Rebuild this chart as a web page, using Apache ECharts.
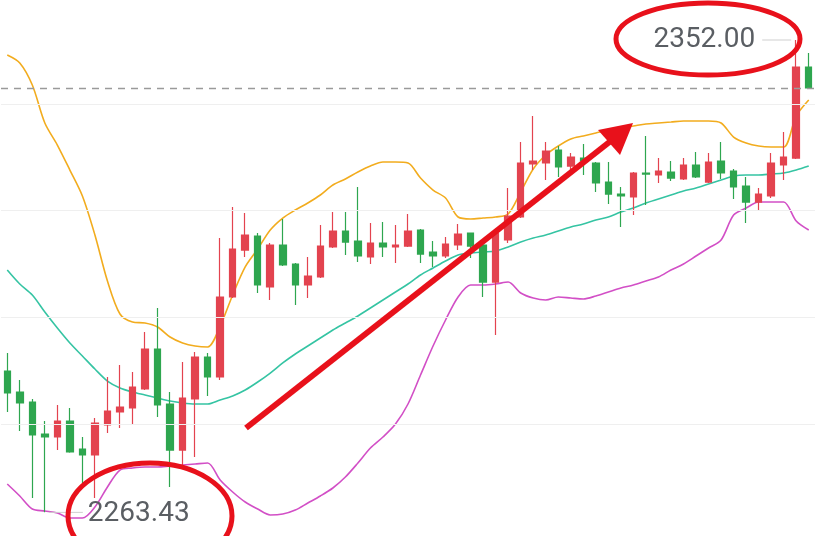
<!DOCTYPE html>
<html><head><meta charset="utf-8">
<script src="https://cdn.jsdelivr.net/npm/echarts@6/dist/echarts.min.js"></script>
<style>html,body{margin:0;padding:0;background:#fff}#c{width:829px;height:536px}</style>
</head><body><div id="c"></div>
<script>
const categories = ['1','2','3','4','5','6','7','8','9','10','11','12','13','14','15','16','17','18','19','20','21','22','23','24','25','26','27','28','29','30','31','32','33','34','35','36','37','38','39','40','41','42','43','44','45','46','47','48','49','50','51','52','53','54','55','56','57','58','59','60','61','62','63','64','65'];
const opens = [2289.94,2286.0,2284.12,2278.12,2277.56,2280.56,2275.31,2274.19,2279.81,2282.25,2283.0,2286.56,2294.06,2283.75,2275.12,2284.69,2292.56,2288.81,2303.81,2312.62,2315.25,2305.69,2313.56,2310.0,2306.06,2307.56,2313.19,2316.19,2314.31,2311.31,2313.94,2313.19,2313.37,2316.37,2312.25,2311.5,2313.56,2315.81,2313.56,2306.62,2314.5,2318.81,2328.75,2328.94,2331.37,2328.37,2329.87,2328.94,2325.37,2323.12,2322.56,2327.06,2326.69,2327.25,2325.94,2328.56,2325.37,2329.31,2327.44,2324.62,2321.62,2322.75,2328.56,2329.87,2346.94];
const closes = [2285.81,2283.94,2277.94,2277.56,2280.56,2274.75,2274.19,2280.19,2282.44,2283.19,2286.94,2294.06,2283.56,2275.12,2284.87,2292.56,2288.81,2303.81,2312.81,2315.44,2306.06,2313.56,2309.81,2306.06,2307.75,2313.37,2316.19,2314.12,2311.5,2313.94,2313.19,2313.56,2316.19,2311.87,2311.5,2313.75,2315.62,2313.37,2306.62,2315.81,2319.0,2328.94,2329.31,2331.19,2328.19,2330.06,2329.31,2325.19,2323.12,2322.75,2327.06,2326.87,2327.44,2326.12,2328.56,2326.31,2329.12,2327.06,2324.44,2321.62,2323.12,2328.94,2330.06,2346.94,2343.0];
const lows = [2282.25,2278.69,2266.12,2263.43,2275.12,2274.6,2268.94,2266.12,2278.31,2279.25,2280.0,2286.37,2281.31,2268.19,2272.31,2273.81,2285.25,2288.25,2303.62,2311.31,2304.56,2303.25,2309.62,2302.31,2303.62,2307.37,2313.0,2311.69,2310.37,2310.0,2311.31,2310.19,2313.19,2310.19,2309.44,2311.12,2312.62,2311.12,2303.81,2296.69,2313.94,2318.62,2327.62,2325.75,2326.31,2327.62,2326.69,2323.5,2321.25,2316.94,2319.19,2321.06,2325.19,2325.56,2325.75,2326.12,2325.19,2325.94,2322.19,2317.69,2320.12,2322.37,2325.75,2329.69,2342.81];
const highs = [2293.31,2288.25,2284.69,2280.56,2283.56,2283.0,2277.56,2281.12,2288.81,2291.06,2289.75,2297.25,2301.75,2286.0,2291.62,2293.5,2293.31,2314.87,2320.69,2319.56,2315.81,2313.94,2318.44,2310.19,2311.31,2317.31,2319.75,2319.75,2324.44,2317.69,2317.87,2317.31,2319.37,2316.56,2314.31,2315.06,2317.5,2315.9,2313.94,2316.0,2324.25,2332.87,2337.75,2332.87,2332.12,2330.81,2332.5,2329.12,2329.12,2324.44,2327.25,2334.0,2329.87,2329.31,2329.87,2331.0,2330.81,2332.87,2327.81,2326.31,2324.25,2330.81,2334.75,2352.0,2349.56];
const bollUpper = [2349.19,2347.69,2343.56,2336.44,2332.31,2327.62,2322.75,2315.44,2306.81,2300.62,2299.12,2298.94,2298.19,2296.31,2295.19,2294.62,2294.44,2298.37,2304.19,2309.44,2312.81,2316.37,2318.62,2320.12,2321.44,2322.94,2324.81,2325.94,2327.25,2328.37,2329.12,2329.12,2328.94,2326.12,2323.87,2322.37,2318.81,2318.44,2318.62,2318.81,2319.37,2323.5,2327.81,2330.44,2332.12,2333.44,2334.0,2334.56,2335.12,2335.5,2335.87,2336.25,2336.44,2336.62,2336.81,2336.81,2336.81,2336.44,2333.81,2332.69,2332.12,2331.94,2331.94,2337.75,2340.75];
const bollMid = [2308.87,2306.25,2304.19,2301.0,2298.0,2295.19,2292.75,2290.31,2288.06,2286.75,2286.0,2285.44,2284.87,2284.31,2283.94,2283.75,2283.75,2284.5,2285.25,2286.37,2287.87,2289.56,2291.44,2293.12,2294.62,2296.12,2297.62,2298.94,2300.25,2301.75,2303.25,2304.75,2306.25,2307.94,2309.25,2310.56,2311.69,2312.06,2312.25,2312.44,2313.19,2314.12,2314.87,2315.44,2316.19,2316.94,2317.5,2318.25,2318.81,2319.75,2320.5,2321.44,2322.19,2322.94,2323.69,2324.25,2325.0,2325.75,2326.5,2326.69,2326.69,2326.87,2327.06,2327.62,2328.37];
const bollLower = [2268.75,2266.5,2264.06,2263.69,2263.31,2262.37,2262.37,2264.44,2268.19,2271.37,2271.75,2271.94,2271.94,2272.12,2272.31,2272.5,2272.69,2269.5,2267.25,2265.37,2264.06,2262.94,2263.12,2263.87,2265.19,2266.5,2268.0,2270.06,2272.69,2275.5,2277.56,2280.0,2283.75,2289.19,2294.62,2299.5,2303.81,2306.06,2306.06,2306.25,2306.62,2304.56,2303.62,2303.25,2303.81,2303.62,2303.44,2304.0,2304.75,2305.5,2306.06,2306.81,2307.56,2308.87,2310.0,2311.5,2313.0,2314.5,2319.19,2320.5,2321.62,2321.62,2321.62,2318.06,2316.37];
const gridValues = [2280, 2300, 2320, 2340];
const highLabel = '2352.00';
const lowLabel = '2263.43';

const UP = '#e3434f', DOWN = '#2ea64f';
const ohlc = categories.map((c, i) => [opens[i], closes[i], lows[i], highs[i]]);
const chart = echarts.init(document.getElementById('c'), null, {renderer: 'canvas'});
const lineSeries = (name, data, color) => ({
  name, type: 'line', data, smooth: 0.3, symbol: 'none', silent: true,
  lineStyle: {color, width: 1.6}, z: 3
});
chart.setOption({
  animation: false,
  backgroundColor: '#ffffff',
  grid: {left: 1, right: 14, top: 0, bottom: 0},
  xAxis: {type: 'category', data: categories, boundaryGap: true, show: false},
  yAxis: {type: 'value', min: 2259, max: 2359.5, show: false, splitLine: {show: false}},
  series: [
    {
      type: 'candlestick', data: ohlc, barWidth: 7, z: 4,
      itemStyle: {color: UP, color0: DOWN, borderColor: UP, borderColor0: DOWN, borderWidth: 1.2},
      markLine: {
        silent: true, symbol: 'none', label: {show: false}, animation: false,
        data: gridValues.map(v => ({yAxis: v, lineStyle: {color: '#efefef', width: 1, type: 'solid'}}))
          .concat([{yAxis: closes[closes.length - 1], lineStyle: {color: '#9a9a9a', width: 1.3, type: [7, 6]}}])
      }
    },
    lineSeries('UP', bollUpper, '#f2ac1e'),
    lineSeries('MB', bollMid, '#35c4a3'),
    lineSeries('DN', bollLower, '#d24fc6')
  ]
});

// high / low labels placed from the data extremes
const hiIdx = highs.indexOf(Math.max(...highs));
const loIdx = lows.indexOf(Math.min(...lows));
const hp = chart.convertToPixel({gridIndex: 0}, [hiIdx, highs[hiIdx]]);
const lp = chart.convertToPixel({gridIndex: 0}, [loIdx, lows[loIdx]]);
const RED = '#e8111b';
chart.setOption({
  graphic: [
    {type: 'line', shape: {x1: hp[0] - 34, y1: hp[1], x2: hp[0] - 5, y2: hp[1]}, style: {stroke: '#cfcfcf', lineWidth: 1}, z: 10},
    {type: 'text', x: hp[0] - 41, y: hp[1], style: {text: highLabel, fill: '#5a5e63', font: '28px Roboto', textAlign: 'right', textVerticalAlign: 'middle'}, z: 10},
    {type: 'line', shape: {x1: lp[0] + 4, y1: lp[1], x2: lp[0] + 38, y2: lp[1]}, style: {stroke: '#cfcfcf', lineWidth: 1}, z: 10},
    {type: 'text', x: lp[0] + 43, y: lp[1] + 2, style: {text: lowLabel, fill: '#5a5e63', font: '28px Roboto', textAlign: 'left', textVerticalAlign: 'middle'}, z: 10},
    {type: 'ellipse', shape: {cx: 708, cy: 39, rx: 92, ry: 36}, style: {fill: 'none', stroke: RED, lineWidth: 5}, z: 20},
    {type: 'ellipse', shape: {cx: 150, cy: 516, rx: 82, ry: 53}, style: {fill: 'none', stroke: RED, lineWidth: 5}, z: 20},
    {type: 'line', shape: {x1: 246, y1: 428, x2: 612, y2: 140}, style: {stroke: RED, lineWidth: 6}, z: 20},
    {type: 'polygon', shape: {points: [[633, 123], [598, 130], [620, 155]]}, style: {fill: RED}, z: 20}
  ]
});
</script></body></html>
